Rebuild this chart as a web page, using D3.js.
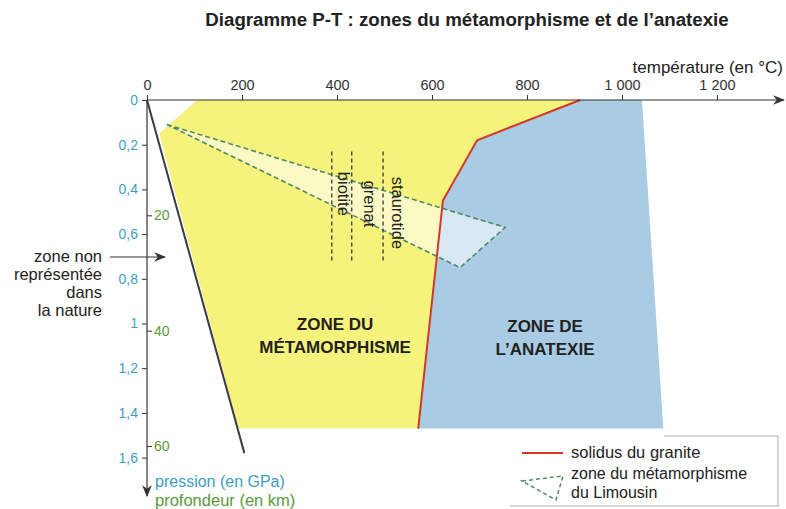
<!DOCTYPE html>
<html>
<head>
<meta charset="utf-8">
<script src="https://cdn.jsdelivr.net/npm/d3@7/dist/d3.min.js"></script>
<style>
  html, body { margin: 0; padding: 0; background: #ffffff; }
  svg { display: block; font-family: "Liberation Sans", Arial, sans-serif; }
</style>
</head>
<body>
<svg id="chart" width="786" height="509"></svg>
<script>
// Temperature (°C) and pressure (GPa) ticks, depth (km) ticks
const temperatureTicks = [0, 200, 400, 600, 800, 1000, 1200];
const pressureTicks = [0, 0.2, 0.4, 0.6, 0.8, 1, 1.2, 1.4, 1.6];
const depthTicks = [20, 40, 60];
const gpaPerKm = 0.0258;

// Limit of conditions found in nature (steepest geotherm)
const geothermT = [0, 205];
const geothermP = [0, 1.58];

// Granite solidus
const solidusT = [912, 695, 623, 571];
const solidusP = [0, 0.18, 0.45, 1.47];

// Metamorphism zone outline (left side, before joining the solidus)
const metaT = [105, 26, 192];
const metaP = [0, 0.15, 1.47];

// Anatexis zone outer edge
const anaT = [1087, 1042];
const anaP = [1.47, 0];

// Limousin metamorphism triangle
const limousinT = [42, 754, 659];
const limousinP = [0.11, 0.57, 0.75];

// Isograds
const isogradNames = ["biotite", "grenat", "staurotide"];
const isogradT = [389, 431, 497];
const isogradP = [0.23, 0.72];
const isogradLabelT = [414, 469, 529];
const isogradLabelP = [0.42, 0.465, 0.505];

const svg = d3.select("#chart");
const x = d3.scaleLinear().domain([0, 1200]).range([147, 717]);
const y = d3.scaleLinear().domain([0, 1.6]).range([100, 457.6]);
const yDepth = d3.scaleLinear().domain([0, 60]).range([y(0), y(60 * gpaPerKm)]);

const fr = d3.formatLocale({ decimal: ",", thousands: "\u00a0", grouping: [3], currency: ["", " €"] });

const yellow = "#f6f37c";
const blue = "#a9cce4";
const teal = "#3e9fbf";
const green = "#5a9a3c";
const dark = "#333";

const defs = svg.append("defs");
defs.append("marker").attr("id", "arrow").attr("viewBox", "0 0 10 10")
  .attr("refX", 9).attr("refY", 5).attr("markerWidth", 12).attr("markerHeight", 12)
  .attr("markerUnits", "userSpaceOnUse").attr("orient", "auto")
  .append("path").attr("d", "M0,1 L10,5 L0,9 L3,5 Z").attr("fill", dark);

const pts = (T, P) => T.map((t, i) => [x(t), y(P[i])]);
const line = d3.line();

// Metamorphism zone (yellow)
const metaPoly = pts(metaT, metaP).concat(pts(solidusT, solidusP).reverse());
svg.append("path").attr("d", line(metaPoly) + "Z").attr("fill", yellow);

// Anatexis zone (blue)
const anaPoly = pts(solidusT, solidusP).concat(pts(anaT, anaP));
svg.append("path").attr("d", line(anaPoly) + "Z").attr("fill", blue);

// Limousin triangle
svg.append("path").attr("d", line(pts(limousinT, limousinP)) + "Z")
  .attr("fill", "#ffffff").attr("fill-opacity", 0.55)
  .attr("stroke", "#4d8a66").attr("stroke-width", 1.6).attr("stroke-dasharray", "5,3");

// Isograds
isogradT.forEach((t, i) => {
  svg.append("line").attr("x1", x(t)).attr("x2", x(t))
    .attr("y1", y(isogradP[0])).attr("y2", y(isogradP[1]))
    .attr("stroke", "#444").attr("stroke-width", 1.4).attr("stroke-dasharray", "4,3");
  svg.append("text").attr("transform", `translate(${x(isogradLabelT[i])},${y(isogradLabelP[i])}) rotate(90)`)
    .attr("text-anchor", "middle").attr("dominant-baseline", "central")
    .attr("font-size", 16.5).attr("fill", "#222").text(isogradNames[i]);
});

// Solidus
svg.append("path").attr("d", line(pts(solidusT, solidusP)))
  .attr("fill", "none").attr("stroke", "#d2392b").attr("stroke-width", 2);

// Geotherm limit
svg.append("path").attr("d", line(pts(geothermT, geothermP)))
  .attr("fill", "none").attr("stroke", "#3a3a4a").attr("stroke-width", 2);

// Zone labels
const zoneLabel = (tx, py, lines) => {
  const t = svg.append("text").attr("text-anchor", "middle").attr("font-weight", "bold")
    .attr("font-size", 17).attr("fill", "#222");
  lines.forEach((s, i) => t.append("tspan").attr("x", x(tx)).attr("y", y(py) + i * 22.5).text(s));
};
zoneLabel(396, 1.03, ["ZONE DU", "MÉTAMORPHISME"]);
zoneLabel(838, 1.04, ["ZONE DE", "L’ANATEXIE"]);

// Temperature axis
const axT = svg.append("g").attr("transform", `translate(0,${y(0)})`)
  .call(d3.axisTop(x).tickValues(temperatureTicks).tickSize(5).tickPadding(5).tickFormat(fr.format(",")));
axT.select(".domain").remove();
axT.selectAll("text").attr("font-size", 14.5).attr("fill", dark).attr("font-family", null);
axT.selectAll("line").attr("stroke", dark);
svg.append("line").attr("x1", x(0)).attr("x2", 784).attr("y1", y(0)).attr("y2", y(0))
  .attr("stroke", dark).attr("stroke-width", 1.2).attr("marker-end", "url(#arrow)");
svg.append("text").attr("x", 783).attr("y", 73).attr("text-anchor", "end")
  .attr("font-size", 17).attr("fill", "#222").text("température (en °C)");

// Pressure axis
const axP = svg.append("g").attr("transform", `translate(${x(0)},0)`)
  .call(d3.axisLeft(y).tickValues(pressureTicks).tickSize(5).tickPadding(4).tickFormat(fr.format("~g")));
axP.select(".domain").remove();
axP.selectAll("text").attr("font-size", 14).attr("fill", teal).attr("font-family", null);
axP.selectAll("line").attr("stroke", dark);

// Depth axis
const axD = svg.append("g").attr("transform", `translate(${x(0)},0)`)
  .call(d3.axisRight(yDepth).tickValues(depthTicks).tickSize(5).tickPadding(2));
axD.select(".domain").remove();
axD.selectAll("text").attr("font-size", 14).attr("fill", green).attr("font-family", null);
axD.selectAll("line").attr("stroke", dark);

svg.append("line").attr("x1", x(0)).attr("x2", x(0)).attr("y1", y(0)).attr("y2", 496)
  .attr("stroke", dark).attr("stroke-width", 1.2).attr("marker-end", "url(#arrow)");
svg.append("text").attr("x", 155).attr("y", 487).attr("font-size", 16).attr("fill", teal).text("pression (en GPa)");
svg.append("text").attr("x", 155).attr("y", 506).attr("font-size", 16.5).attr("fill", green).text("profondeur (en km)");

// Note on the left
const note = svg.append("text").attr("text-anchor", "end").attr("font-size", 16.5).attr("fill", "#222");
["zone non", "représentée", "dans", "la nature"].forEach((s, i) =>
  note.append("tspan").attr("x", 102).attr("y", 262 + i * 18).text(s));
svg.append("line").attr("x1", 110).attr("x2", 165).attr("y1", 257).attr("y2", 257)
  .attr("stroke", dark).attr("stroke-width", 1.2).attr("marker-end", "url(#arrow)");

// Title
svg.append("text").attr("x", 467).attr("y", 26).attr("text-anchor", "middle")
  .attr("font-weight", "bold").attr("font-size", 18.7).attr("fill", "#222")
  .text("Diagramme P-T : zones du métamorphisme et de l’anatexie");

// Legend
svg.append("path").attr("d", "M510,506 H778 V436 H664").attr("fill", "none")
  .attr("stroke", "#c8c8c8").attr("stroke-width", 1.5);
svg.append("line").attr("x1", 522).attr("x2", 563).attr("y1", 453).attr("y2", 453)
  .attr("stroke", "#d2392b").attr("stroke-width", 2);
svg.append("text").attr("x", 571).attr("y", 458).attr("font-size", 16.5).attr("fill", "#222").text("solidus du granite");
svg.append("path").attr("d", "M522,481 L563,476 L556,500 Z").attr("fill", "none")
  .attr("stroke", "#4d8a66").attr("stroke-width", 1.5).attr("stroke-dasharray", "4,3");
const lg = svg.append("text").attr("font-size", 16).attr("fill", "#222");
lg.append("tspan").attr("x", 571).attr("y", 479).text("zone du métamorphisme");
lg.append("tspan").attr("x", 571).attr("y", 498).text("du Limousin");
</script>
</body>
</html>
